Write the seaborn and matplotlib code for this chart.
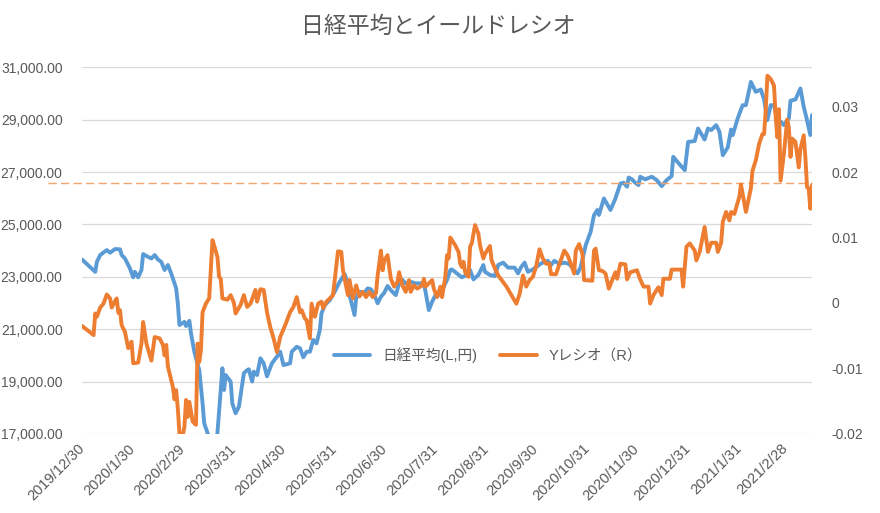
import pandas as pd
import matplotlib
matplotlib.use("Agg")
import matplotlib.pyplot as plt
import matplotlib.ticker as mticker
import seaborn as sns

# 日経平均 (days since 2019/12/30, yen)
nikkei_day = [0, 8, 9, 11, 15, 17, 20, 23, 24, 26, 29, 31, 32, 34, 36, 37, 40, 42, 44, 46,
              48, 50, 52, 54, 57, 58, 59, 62, 63, 65, 66, 68, 71, 73, 74, 76, 79, 81, 82, 85,
              86, 87, 90, 91, 93, 95, 98, 100, 101, 103, 104, 106, 108, 110, 112, 115, 118, 120, 122, 126,
              127, 130, 132, 134, 136, 138, 140, 142, 144, 145, 147, 150, 153, 156, 158, 159, 161, 162, 165, 166,
              168, 171, 173, 175, 177, 179, 181, 183, 185, 187, 190, 192, 194, 196, 199, 202, 205, 207, 208, 210,
              212, 214, 216, 218, 221, 223, 224, 227, 230, 233, 235, 237, 240, 243, 244, 247, 250, 252, 255, 258,
              262, 264, 266, 268, 270, 273, 278, 282, 284, 286, 289, 292, 295, 298, 300, 302, 305, 308, 310, 312,
              313, 316, 320, 323, 326, 328, 330, 331, 333, 335, 337, 338, 341, 345, 348, 351, 354, 357, 358, 361,
              365, 367, 371, 373, 377, 379, 381, 384, 386, 388, 391, 393, 394, 397, 400, 402, 405, 408, 411, 413,
              415, 417, 419, 421, 423, 425, 427, 428, 429, 432, 435, 437, 439, 441, 442]
nikkei = [23660, 23190, 23570, 23830, 24020, 23920, 24060, 24050, 23830, 23700, 23320, 22980, 23190, 22980, 23260, 23870, 23760, 23700, 23830, 23660,
          23570, 23260, 23450, 23130, 22560, 21990, 21160, 21280, 21120, 21320, 20840, 20140, 19440, 18170, 17410, 17040, 16550, 16700, 17040, 19510,
          18680, 19250, 19000, 18170, 17790, 18040, 19320, 19440, 19470, 19000, 19380, 19250, 19890, 19700, 19200, 19700, 19950, 20140, 19630, 19700,
          20140, 20330, 20270, 19930, 20140, 20140, 20590, 20460, 20970, 21600, 21920, 22110, 22430, 22810, 23000, 23100, 22750, 22300, 21540, 22180,
          22430, 22390, 22560, 22520, 22300, 21990, 22240, 22390, 22650, 22490, 22300, 22750, 22880, 22750, 22810, 22750, 22750, 22750, 22430, 21730,
          22050, 22300, 22300, 22490, 22880, 23260, 23280, 23130, 22980, 23070, 23260, 22900, 23070, 23450, 23190, 23070, 23030, 23450, 23540, 23350,
          23350, 23130, 23380, 23540, 23190, 23280, 23510, 23610, 23450, 23610, 23490, 23540, 23490, 23260, 23130, 23380, 24210, 24720, 25350, 25550,
          25360, 25990, 25550, 25990, 26560, 26590, 26440, 26790, 26720, 26590, 26500, 26820, 26720, 26820, 26690, 26460, 26690, 26840, 27580, 27350,
          27070, 28150, 28180, 28660, 28240, 28660, 28600, 28790, 28530, 27640, 27940, 28620, 28410, 29040, 29550, 29550, 30440, 30060, 30150, 29770,
          28980, 29550, 29550, 28980, 28920, 28790, 28980, 29040, 29720, 29770, 30190, 29490, 28980, 28410, 29170]

# イールドレシオ (days since 2019/12/30, ratio)
yratio_day = [0, 7, 8, 9, 11, 13, 15, 17, 18, 20, 21, 22, 23, 24, 26, 28, 30, 31, 34, 36,
              37, 39, 42, 44, 47, 49, 50, 51, 52, 55, 56, 57, 58, 59, 60, 62, 63, 64, 65, 67,
              69, 70, 71, 72, 73, 75, 77, 79, 80, 82, 83, 84, 85, 88, 90, 92, 93, 96, 98, 100,
              102, 105, 106, 108, 110, 112, 114, 116, 118, 120, 123, 126, 128, 130, 132, 133, 135, 136, 138, 139,
              141, 143, 145, 146, 148, 152, 153, 155, 157, 158, 160, 161, 162, 164, 166, 168, 170, 172, 174, 176,
              178, 179, 181, 182, 183, 185, 187, 189, 191, 192, 194, 196, 198, 199, 201, 203, 206, 207, 208, 210,
              212, 213, 215, 217, 218, 220, 221, 222, 223, 226, 228, 229, 230, 231, 232, 234, 235, 236, 238, 240,
              241, 243, 244, 247, 248, 250, 252, 255, 257, 260, 263, 265, 267, 269, 271, 273, 275, 277, 279, 281,
              283, 284, 287, 289, 291, 292, 294, 296, 298, 299, 301, 303, 304, 309, 310, 311, 313, 315, 317, 319,
              321, 323, 324, 326, 329, 330, 332, 336, 338, 340, 343, 344, 346, 349, 351, 352, 356, 357, 363, 364,
              366, 368, 371, 372, 374, 377, 379, 381, 384, 385, 387, 388, 390, 392, 393, 395, 398, 399, 402, 405,
              406, 408, 410, 412, 413, 414, 415, 417, 419, 420, 421, 422, 423, 425, 427, 428, 429, 430, 432, 434,
              435, 437, 438, 439, 440, 441, 442]
yratio = [-0.0035, -0.0049, -0.0016, -0.0021, -0.0007, -0.0001, 0.0013, 0.0007, -0.0007, 0.0003, 0.0007, -0.0015, -0.0011, -0.0034, -0.0044, -0.0069, -0.0059, -0.0092, -0.0091, -0.0062,
          -0.0029, -0.0062, -0.0088, -0.0052, -0.0054, -0.0064, -0.0080, -0.0064, -0.0097, -0.0128, -0.0147, -0.0133, -0.0161, -0.0199, -0.0215, -0.0189, -0.0148, -0.0174, -0.0151, -0.0181,
          -0.0186, -0.0062, -0.0090, -0.0072, -0.0014, -0.0001, 0.0007, 0.0096, 0.0088, 0.0070, 0.0040, 0.0037, 0.0007, 0.0005, 0.0012, 0.0000, -0.0016, -0.0003, 0.0012, -0.0006,
          -0.0001, 0.0020, 0.0002, 0.0021, 0.0020, -0.0014, -0.0037, -0.0054, -0.0075, -0.0052, -0.0034, -0.0014, -0.0006, 0.0009, -0.0014, -0.0011, -0.0024, -0.0026, -0.0054, -0.0001,
          -0.0021, -0.0001, 0.0002, -0.0008, 0.0002, 0.0012, 0.0035, 0.0079, 0.0078, 0.0050, 0.0025, 0.0012, 0.0035, 0.0007, 0.0027, 0.0010, 0.0017, 0.0009, 0.0017, 0.0009,
          0.0015, 0.0042, 0.0080, 0.0050, 0.0065, 0.0073, 0.0037, 0.0025, 0.0032, 0.0047, 0.0027, 0.0017, 0.0035, 0.0017, 0.0027, 0.0022, 0.0027, 0.0037, 0.0025, 0.0030,
          0.0035, 0.0022, 0.0009, 0.0025, 0.0009, 0.0040, 0.0073, 0.0068, 0.0100, 0.0088, 0.0078, 0.0060, 0.0055, 0.0063, 0.0047, 0.0040, 0.0086, 0.0091, 0.0119, 0.0106,
          0.0088, 0.0068, 0.0075, 0.0087, 0.0065, 0.0053, 0.0042, 0.0032, 0.0025, 0.0012, -0.0001, 0.0014, 0.0042, 0.0025, 0.0035, 0.0040, 0.0056, 0.0082, 0.0068, 0.0060,
          0.0060, 0.0044, 0.0044, 0.0059, 0.0073, 0.0080, 0.0073, 0.0060, 0.0045, 0.0080, 0.0090, 0.0075, 0.0035, 0.0034, 0.0080, 0.0083, 0.0050, 0.0049, 0.0045, 0.0022,
          0.0035, 0.0047, 0.0037, 0.0060, 0.0059, 0.0036, 0.0047, 0.0050, 0.0036, 0.0025, 0.0025, -0.0001, 0.0012, 0.0024, 0.0012, 0.0037, 0.0037, 0.0051, 0.0051, 0.0025,
          0.0086, 0.0091, 0.0080, 0.0065, 0.0078, 0.0116, 0.0078, 0.0092, 0.0092, 0.0078, 0.0092, 0.0124, 0.0139, 0.0126, 0.0139, 0.0136, 0.0162, 0.0181, 0.0139, 0.0175,
          0.0202, 0.0218, 0.0243, 0.0258, 0.0258, 0.0294, 0.0347, 0.0342, 0.0332, 0.0286, 0.0253, 0.0296, 0.0187, 0.0228, 0.0280, 0.0268, 0.0223, 0.0251, 0.0246, 0.0207,
          0.0235, 0.0256, 0.0223, 0.0177, 0.0175, 0.0144, 0.0180]

threshold = 0.0183

tick_dates = ["2019-12-30", "2020-01-30", "2020-02-29", "2020-03-31", "2020-04-30", "2020-05-31",
              "2020-06-30", "2020-07-31", "2020-08-31", "2020-09-30", "2020-10-31", "2020-11-30",
              "2020-12-31", "2021-01-31", "2021-02-28"]

start = pd.Timestamp("2019-12-30")
df_n = pd.DataFrame({"date": start + pd.to_timedelta(nikkei_day, unit="D"), "v": nikkei})
df_y = pd.DataFrame({"date": start + pd.to_timedelta(yratio_day, unit="D"), "v": yratio})

sns.set_theme(style="white")
plt.rcParams["font.family"] = ["Liberation Sans", "Noto Sans CJK JP", "DejaVu Sans"]

blue = "#5B9BD5"
orange = "#ED7D31"
grey = "#595959"

fig = plt.figure(figsize=(8.8, 5.13), dpi=100)
ax = fig.add_axes([0.0932, 0.154, 0.8295, 0.715])
ax2 = ax.twinx()

sns.lineplot(data=df_n, x="date", y="v", ax=ax, color=blue, linewidth=2.8, label="日経平均(L,円)", legend=False)
sns.lineplot(data=df_y, x="date", y="v", ax=ax2, color=orange, linewidth=2.8, label="Yレシオ（R）", legend=False)

ax.set_ylim(17000, 31000)
ax.set_yticks(range(17000, 31001, 2000))
ax.yaxis.set_major_formatter(mticker.FuncFormatter(lambda v, p: f"{v:,.2f}"))
ax2.set_ylim(-0.02, 0.036)
ax2.set_yticks([-0.02, -0.01, 0, 0.01, 0.02, 0.03])
ax2.yaxis.set_major_formatter(mticker.FuncFormatter(lambda v, p: "0" if abs(v) < 1e-9 else f"{v:.2f}".replace("\u2212", "-")))

ax.set_xlim(df_n["date"].iloc[0], df_n["date"].iloc[-1])
ticks = pd.to_datetime(tick_dates)
ax.set_xticks(ticks)
ax.set_xticklabels([f"{d.year}/{d.month}/{d.day}" for d in ticks])

ax.grid(axis="y", color="#D9D9D9", linewidth=0.9)
ax.set_axisbelow(True)
for a in (ax, ax2):
    for s in a.spines.values():
        s.set_visible(False)
    a.set_xlabel("")
    a.set_ylabel("")
    a.tick_params(length=0, colors=grey, labelsize=10)
ax.tick_params(axis="y", pad=14)
ax2.tick_params(axis="y", pad=14)
plt.setp(ax.get_xticklabels(), rotation=45, ha="right", va="center", rotation_mode="anchor", fontsize=10.5)
ax.tick_params(axis="x", pad=9)

# threshold dashed line, reaching left past the plot area
ax2.axhline(threshold, xmin=-0.047, xmax=1.0, color="#F4A46E", linewidth=1.0,
            linestyle=(0, (6, 3)), clip_on=False, zorder=1)

h1, l1 = ax.get_legend_handles_labels()
h2, l2 = ax2.get_legend_handles_labels()
leg = ax2.legend(h1 + h2, l1 + l2, loc="center", bbox_to_anchor=(0.556, 0.215), ncol=2,
                 frameon=False, fontsize=10.5, handlelength=2.5, columnspacing=1.6)
for t in leg.get_texts():
    t.set_color(grey)

fig.text(0.498, 1 - 26.5 / 513, "日経平均とイールドレシオ", ha="center", va="center",
         fontsize=16.5, color=grey, family=["Noto Sans CJK JP", "DejaVu Sans"])

fig.savefig("out.png", dpi=100)
